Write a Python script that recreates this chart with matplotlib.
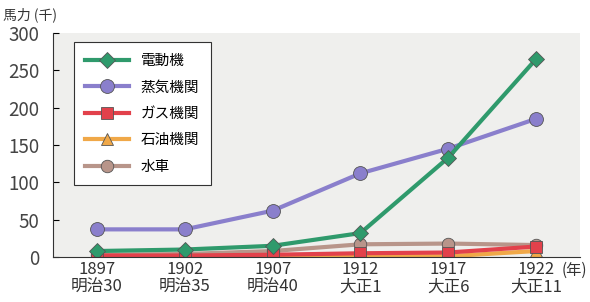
import matplotlib.pyplot as plt

plt.rcParams['font.family'] = ['Noto Sans CJK JP', 'DejaVu Sans']

years = [1897, 1902, 1907, 1912, 1917, 1922]
eras = ["明治30", "明治35", "明治40", "大正1", "大正6", "大正11"]
yticks = [0, 50, 100, 150, 200, 250, 300]

electric = [8, 10, 15, 32, 133, 265]
steam = [37, 37, 62, 112, 145, 185]
gas = [2, 2, 3, 5, 6, 14]
oil = [0, 0, 0, 1, 1, 8]
water = [3, 4, 8, 17, 18, 16]

series = [
    ("電動機", electric, "#2f9a6c", "D", 8),
    ("蒸気機関", steam, "#8a7fcc", "o", 10),
    ("ガス機関", gas, "#e2414b", "s", 8),
    ("石油機関", oil, "#f0a848", "^", 9),
    ("水車", water, "#b8958a", "o", 9),
]

fig = plt.figure(figsize=(5.9, 3.02), dpi=100)
ax = fig.add_axes([0.09, 0.149, 0.893, 0.742])
ax.set_facecolor("#efefed")

# draw bottom series first so the big ones sit on top
for label, vals, col, mk, ms in reversed(series):
    ax.plot(years, vals, color=col, marker=mk, markersize=ms, lw=3,
            markeredgecolor="#555555", markeredgewidth=0.6, label=label)

ax.set_xlim(1894.5, 1924.5)
ax.set_ylim(0, 300)
ax.set_yticks(yticks)
ax.set_xticks(years)
xlabels = [f"{y}\n{e}" for y, e in zip(years, eras)]
ax.set_xticklabels(xlabels, fontsize=12, color="#333333", linespacing=1.05)
ax.text(1923.45, -0.022, "(年)", transform=ax.get_xaxis_transform(), fontsize=11,
        color="#333333", va="top", ha="left")
ax.tick_params(axis="y", direction="in", length=4, labelsize=13.5, labelcolor="#444444", pad=10)
ax.tick_params(axis="x", length=0, pad=3)
for s in ["top", "right"]:
    ax.spines[s].set_visible(False)
ax.spines["left"].set_color("#333333")
ax.spines["bottom"].set_color("#333333")

handles, labels = ax.get_legend_handles_labels()
leg = ax.legend(handles[::-1], labels[::-1], loc="upper left", bbox_to_anchor=(0.025, 0.99),
                fontsize=10.5, frameon=True, fancybox=False, edgecolor="#333333",
                facecolor="white", framealpha=1, handlelength=3, borderpad=0.8,
                labelspacing=0.85)
leg.get_frame().set_linewidth(0.8)

fig.text(0.005, 0.975, "馬力 (千)", fontsize=10, color="#333333", va="top")

fig.savefig("out.png", dpi=100)
